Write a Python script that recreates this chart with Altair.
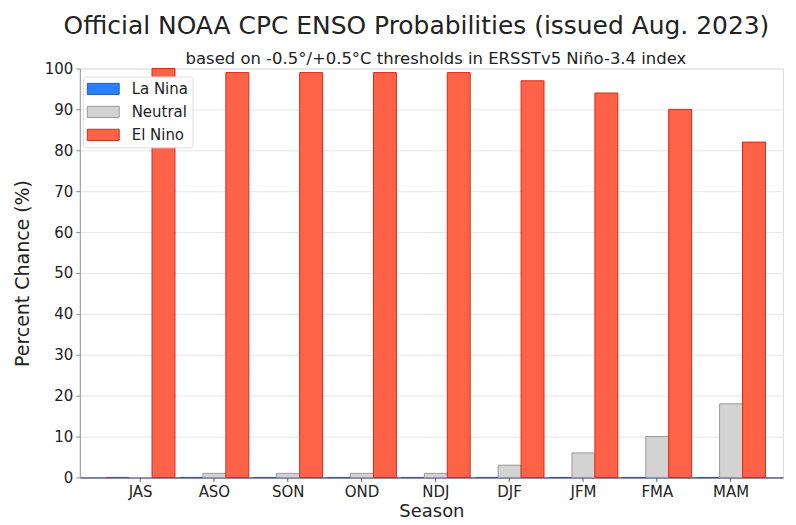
import altair as alt
import pandas as pd

seasons = ["JAS", "ASO", "SON", "OND", "NDJ", "DJF", "JFM", "FMA", "MAM"]
la_nina = [0, 0, 0, 0, 0, 0, 0, 0, 0]
neutral = [0, 1, 1, 1, 1, 3, 6, 10, 18]
el_nino = [100, 99, 99, 99, 99, 97, 94, 90, 82]
categories = ["La Nina", "Neutral", "El Nino"]
fills = ["#2a80ff", "#d3d3d3", "#ff6347"]
strokes = ["#1f5fd0", "#9a9a9a", "#d9281c"]
title_text = "Official NOAA CPC ENSO Probabilities (issued Aug. 2023)"
subtitle_text = "based on -0.5°/+0.5°C thresholds in ERSSTv5 Niño-3.4 index"

rows = []
for i, s in enumerate(seasons):
    for c, vals in zip(categories, [la_nina, neutral, el_nino]):
        rows.append({"Season": s, "Category": c, "Value": vals[i]})
df = pd.DataFrame(rows)

FONT = "DejaVu Sans"

bars = alt.Chart(df).mark_bar(strokeWidth=1).encode(
    x=alt.X("Season:N", sort=seasons, title="Season",
            scale=alt.Scale(paddingInner=0.068, paddingOuter=0.2976, align=0.6),
            axis=alt.Axis(labelAngle=0, labelFontSize=15, titleFontSize=18,
                          labelFont=FONT, titleFont=FONT, labelColor="#222",
                          titleColor="#222", titleFontWeight="normal",
                          domainColor="#1a1a6e", tickColor="#666",
                          tickSize=4, labelPadding=3, titlePadding=3, grid=False)),
    xOffset=alt.XOffset("Category:N", sort=categories),
    y=alt.Y("Value:Q", title="Percent Chance (%)",
            scale=alt.Scale(domain=[0, 100]),
            axis=alt.Axis(values=list(range(0, 101, 10)), labelFontSize=15,
                          titleFontSize=19, labelFont=FONT, titleFont=FONT,
                          labelColor="#222", titleColor="#222",
                          titleFontWeight="normal", gridColor="#e6e6e6",
                          domainColor="#999", tickColor="#888", tickSize=4,
                          labelPadding=3, titlePadding=12)),
    color=alt.Color("Category:N", sort=categories,
                    scale=alt.Scale(domain=categories, range=fills),
                    legend=alt.Legend(title=None, orient="none", legendX=3, legendY=8,
                                      labelFontSize=15, labelFont=FONT,
                                      labelColor="#222", labelOffset=28,
                                      symbolType="M-1,-0.7H3V0.7H-1Z",
                                      symbolSize=256, symbolStrokeWidth=1,
                                      symbolOpacity=1,
                                      fillColor="white", strokeColor="#dddddd",
                                      padding=4, rowPadding=6, cornerRadius=3)),
    stroke=alt.Stroke("Category:N", sort=categories,
                      scale=alt.Scale(domain=categories, range=strokes),
                      legend=None),
)

sub = alt.Chart(pd.DataFrame({"t": [subtitle_text]})).mark_text(
    font=FONT, fontSize=16.5, color="#222", baseline="alphabetic", align="center"
).encode(text="t:N", x=alt.value(357), y=alt.value(-5))

chart = alt.layer(bars, sub).properties(
    width=705, height=410,
    title=alt.TitleParams(
        text=title_text, fontSize=25, font=FONT,
        fontWeight="normal", color="#222",
        anchor="middle", offset=12, dx=-15),
).configure_view(stroke=None).configure(background="white")

chart.save("out.html", embed_options={"renderer": "svg", "actions": False})
